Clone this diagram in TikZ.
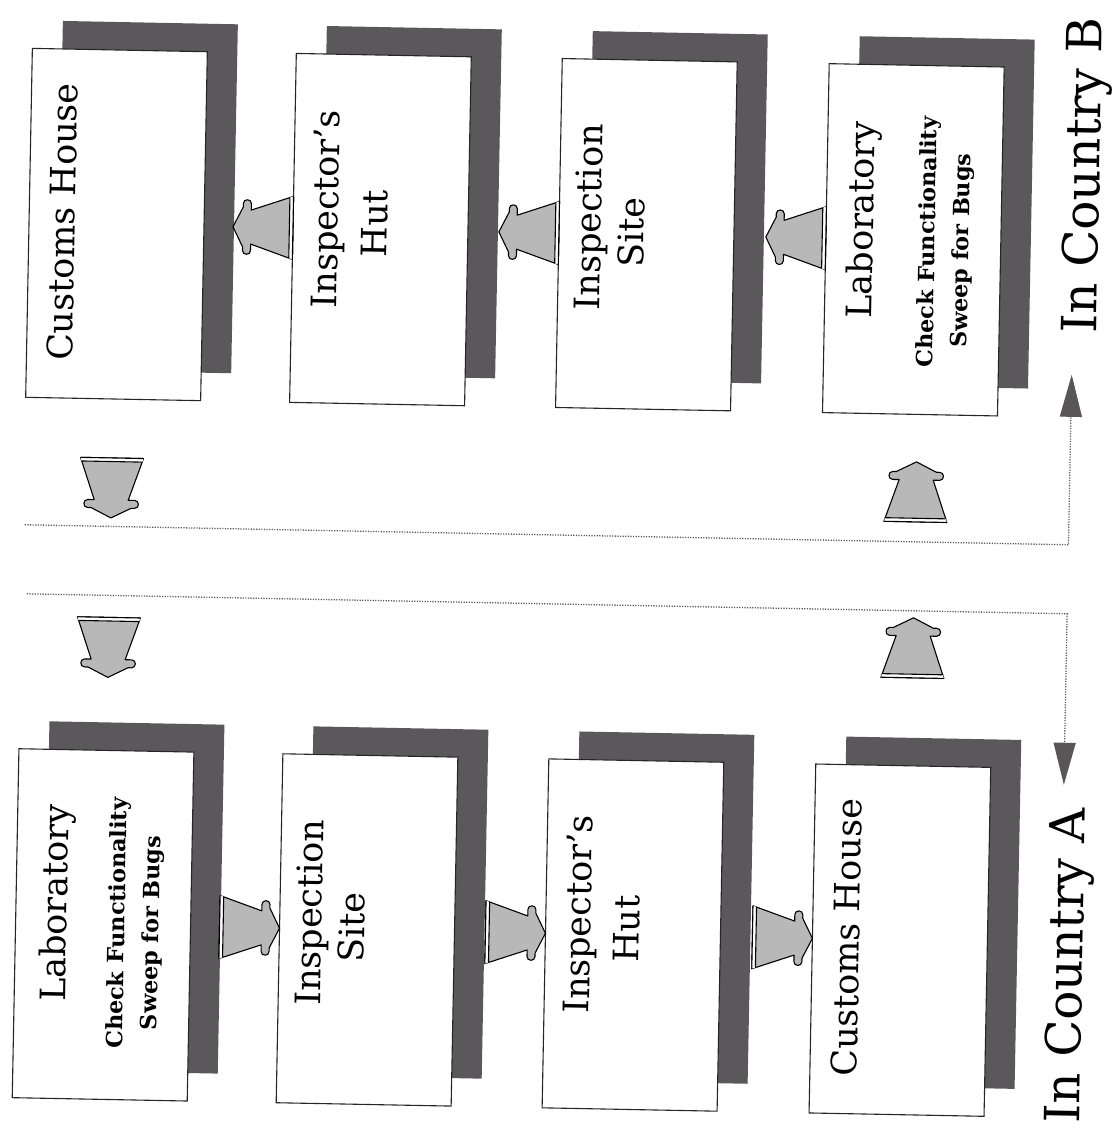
\documentclass[tikz,border=0pt]{standalone}
\usepackage{fontspec}
\setmainfont{DejaVu Serif}
\usetikzlibrary{arrows.meta,calc}
\definecolor{shade}{HTML}{5B585B}
\definecolor{afill}{HTML}{B8B8B8}
\definecolor{dotc}{HTML}{5A5A5A}
\definecolor{tipc}{HTML}{5A5658}
\tikzset{
  box/.style={draw=black!85, line width=1.1pt, fill=white, minimum width=175pt, minimum height=349pt, inner sep=0pt, outer sep=0pt},
  shbox/.style={fill=shade, minimum width=175pt, minimum height=349pt, inner sep=0pt, outer sep=0pt},
  ttl/.style={rotate=90, anchor=base, inner sep=0pt, font=\fontsize{35}{35}\selectfont},
  subttl/.style={rotate=90, anchor=base, inner sep=0pt, font=\fontsize{22.3}{22.3}\selectfont\bfseries},
  ctry/.style={rotate=90, anchor=base, inner sep=0pt, font=\fontsize{48.5}{48.5}\selectfont},
  dotline/.style={draw=dotc, line width=1.3pt, dash pattern=on 1.2pt off 1.4pt},
  barrow/.pic={
    \filldraw[fill=afill, draw=black, line width=1.1pt, line join=round]
      (0,-31.5) -- (42,-17) -- (42,-23.5) .. controls (42,-28.5) and (50,-28.5) .. (50,-23.5)
      -- (50,-20) -- (60,0) -- (50,20) -- (50,23.5) .. controls (50,28.5) and (42,28.5) .. (42,23.5)
      -- (42,17) -- (0,31.5) -- cycle;
    \fill[white] (0,-31.5) -- (3.6,-30.3) -- (3.6,30.3) -- (0,31.5) -- cycle;
    \draw[line width=1.1pt] (0,-31.5) -- (0,31.5) (3.6,-30.3) -- (3.6,30.3);
  }
}
\begin{document}
\begin{tikzpicture}[x=1pt,y=-1pt]
\fill[white] (0,0) rectangle (1112,1135);
\useasboundingbox (0,0) rectangle (1112,1135);
\begin{scope}[rotate around={-1.1:(556,567)}, transform shape]
  % shadows
  \node[shbox] (custBs) at (140,205) {};
  \node[shbox] (inspBs) at (404,205) {};
  \node[shbox] (siteBs) at (670,205) {};
  \node[shbox] (labBs)  at (937,205) {};
  \node[shbox] (labAs)  at (140,905.5) {};
  \node[shbox] (siteAs) at (404,905.5) {};
  \node[shbox] (inspAs) at (670,905.5) {};
  \node[shbox] (custAs) at (937,905.5) {};
  % boxes
  \node[box] (custB) at (110,233) {};
  \node[box] (inspB) at (374,233) {};
  \node[box] (siteB) at (640,233) {};
  \node[box] (labB)  at (907,233) {};
  \node[box] (labA)  at (110,933.5) {};
  \node[box] (siteA) at (374,933.5) {};
  \node[box] (inspA) at (640,933.5) {};
  \node[box] (custA) at (907,933.5) {};
  % texts, country B row
  \node[ttl] (custBt) at (68.5,231.5) {Customs House};
  \node[ttl] (inspBt1) at (331.5,213.5) {Inspector's};
  \node[ttl] (inspBt2) at (380.5,227) {Hut};
  \node[ttl] (siteBt1) at (594.5,216.5) {Inspection};
  \node[ttl] (siteBt2) at (637.5,231) {Site};
  \node[ttl] (labBt1) at (866.5,214) {Laboratory};
  \node[subttl] (labBt2) at (928.5,235) {Check Functionality};
  \node[subttl] (labBt3) at (962.5,243) {Sweep for Bugs};
  % texts, country A row
  \node[ttl] (labAt1) at (73.5,912.5) {Laboratory};
  \node[subttl] (labAt2) at (131.5,931.5) {Check Functionality};
  \node[subttl] (labAt3) at (165.5,940.5) {Sweep for Bugs};
  \node[ttl] (siteAt1) at (328.5,917) {Inspection};
  \node[ttl] (siteAt2) at (371.5,931.5) {Site};
  \node[ttl] (inspAt1) at (597.5,914) {Inspector's};
  \node[ttl] (inspAt2) at (646.5,927.5) {Hut};
  \node[ttl] (custAt) at (866.5,932) {Customs House};
  % country labels
  \node[ctry] (ctryB) at (1092,165) {In Country B};
  \node[ctry] (ctryA) at (1090,956) {In Country A};
  % block arrows, country B (right to left)
  \pic[rotate=180] at (inspB.west) {barrow};
  \pic[rotate=180] at (siteB.west) {barrow};
  \pic[rotate=180] at (labB.west) {barrow};
  % block arrows, country A (left to right)
  \pic at ($(siteA.west)+(-60,0)$) {barrow};
  \pic at ($(inspA.west)+(-60,0)$) {barrow};
  \pic at ($(custA.west)+(-60,0)$) {barrow};
  % vertical block arrows
  \pic[rotate=-90] at ($(custB.south)+(0,59)$) {barrow};
  \pic[rotate=-90] at ($(labA.north)+(0,-133)$) {barrow};
  \pic[rotate=90] at ($(labB.south)+(7.5,107.5)$) {barrow};
  \pic[rotate=90] at ($(custA.north)+(7.5,-88)$) {barrow};
  % dotted lines
  \coordinate (d1s) at (24,535);
  \coordinate (d1t) at (1068,365);
  \coordinate (d2s) at (27.5,604);
  \coordinate (d2t) at (1068,775);
  \draw[dotline, -{Triangle[length=42pt,width=22pt,color=tipc]}] (d1s) -| (d1t);
  \draw[dotline, -{Triangle[length=42pt,width=22pt,color=tipc]}] (d2s) -| (d2t);
\end{scope}
\end{tikzpicture}
\end{document}
